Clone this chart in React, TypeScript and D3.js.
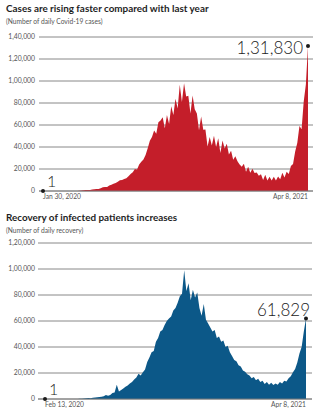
import React from 'react';
import * as d3 from 'd3';

// Chart 1: daily cases, sampled every 3.5 days from Jan 30, 2020 to Apr 8, 2021
const casesTitle = 'Cases are rising faster compared with last year';
const casesSubtitle = '(Number of daily Covid-19 cases)';
const casesStartLabel = 'Jan 30, 2020';
const casesEndLabel = 'Apr 8, 2021';
const casesSpanDays = 434;
const casesStep = 3.5;
const casesTicks = [0, 20000, 40000, 60000, 80000, 100000, 120000, 140000];
const casesValues = [
  1, 0, 0, 0, 0, 0, 0, 0, 0, 2,
  20, 15, 20, 25, 50, 80, 90, 200, 450, 600,
  800, 900, 1000, 1300, 1500, 1800, 1900, 2600, 3300, 3600,
  3700, 5000, 5600, 6600, 7200, 8400, 9800, 9900, 11000, 11500,
  13500, 15500, 17000, 19900, 19500, 24000, 26500, 28600, 32700, 38900,
  45700, 49000, 55000, 52000, 62500, 64000, 67000, 57000, 69000, 61000,
  77000, 69000, 83800, 75000, 96500, 81000, 97900, 86000, 86500, 70500,
  86800, 74400, 70500, 55300, 67700, 55700, 55800, 40500, 49000, 41300,
  50200, 40000, 47900, 34500, 45800, 38600, 43000, 33100, 36600, 28500,
  31500, 27000, 24000, 22000, 24700, 17400, 22000, 16500, 20300, 16300,
  16900, 13800, 15200, 10100, 14800, 9600, 12900, 9600, 12900, 9600,
  13200, 10600, 16700, 12300, 17400, 15400, 22800, 24500, 35900, 43800,
  59100, 56200, 81400, 96900, 131830,
];
const casesLast = 131830;

// Chart 2: daily recoveries, sampled every 3.5 days from Feb 13, 2020 to Apr 8, 2021
const recTitle = 'Recovery of infected patients increases';
const recSubtitle = '(Number of daily recovery)';
const recStartLabel = 'Feb 13, 2020';
const recEndLabel = 'Apr 8, 2021';
const recSpanDays = 420;
const recStep = 3.5;
const recTicks = [0, 20000, 40000, 60000, 80000, 100000, 120000];
const recValues = [
  1, 0, 0, 0, 0, 0, 2, 3, 5, 10,
  15, 20, 25, 40, 80, 90, 150, 250, 400, 500,
  700, 600, 900, 1100, 1300, 1500, 1800, 2200, 3000, 2500,
  3100, 4600, 5000, 11000, 5800, 7000, 8000, 9500, 10400, 12000,
  13000, 15000, 16500, 19500, 18000, 20500, 22600, 28500, 32000, 36000,
  37000, 44000, 47000, 52000, 53000, 57000, 60000, 62000, 63500, 68000,
  70000, 74000, 79000, 81000, 99000, 83000, 89000, 76000, 84000, 78000,
  82000, 70000, 64000, 73000, 61000, 58000, 55000, 52000, 53000, 47000,
  48000, 44000, 45000, 40000, 41000, 36000, 33000, 30000, 29000, 26000,
  25000, 22000, 21000, 19000, 18000, 16000, 17000, 14500, 15500, 13000,
  14000, 11500, 13000, 11000, 12500, 10700, 12000, 11000, 13000, 12000,
  14000, 13500, 16000, 17500, 20500, 23000, 28000, 35000, 40000, 52000,
  61829,
];
const recLast = 61829;

function fmtIN(n: number): string {
  const s = String(Math.round(n));
  if (s.length <= 3) return s;
  const last3 = s.slice(-3);
  let rest = s.slice(0, -3);
  const parts: string[] = [];
  while (rest.length > 2) {
    parts.unshift(rest.slice(-2));
    rest = rest.slice(0, -2);
  }
  if (rest) parts.unshift(rest);
  return parts.join(',') + ',' + last3;
}

const FONT = 'Lato, "Open Sans", sans-serif';

type PanelProps = {
  title: string;
  subtitle: string;
  titleY: number;
  ticks: number[];
  values: number[];
  step: number;
  span: number;
  yRange: [number, number];
  xRange: [number, number];
  gridX: [number, number];
  color: string;
  startLabel: string;
  endLabel: string;
  lastValue: number;
  lastLabelDx: number;
  lastLabelDy: number;
};

function Panel(p: PanelProps) {
  const maxTick = p.ticks[p.ticks.length - 1];
  const y = d3.scaleLinear().domain([0, maxTick]).range(p.yRange);
  const x = d3.scaleLinear().domain([0, p.span]).range(p.xRange);
  const area = d3
    .area<number>()
    .x((_, i) => x(Math.min(i * p.step, p.span)))
    .y0(y(0))
    .y1((d) => y(d));
  const lastX = x(p.span);
  const lastY = y(p.lastValue);
  return (
    <g>
      <text x={6} y={p.titleY} fontFamily={FONT} fontWeight={700} fontSize={9.9} fill="#1e1e1e">
        {p.title}
      </text>
      <text x={6} y={p.titleY + 12} fontFamily={FONT} fontSize={6.7} fill="#555">
        {p.subtitle}
      </text>
      {p.ticks.map((t) => (
        <g key={t}>
          <line x1={p.gridX[0]} x2={p.gridX[1]} y1={y(t)} y2={y(t)} stroke="#7a7a7a" strokeWidth={0.9} />
          <text x={35} y={y(t)} dy="0.35em" textAnchor="end" fontFamily={FONT} fontSize={6.8} fill="#555">
            {fmtIN(t)}
          </text>
        </g>
      ))}
      <path d={area(p.values) || ''} fill={p.color} />
      <line x1={p.gridX[0]} x2={p.gridX[1]} y1={y(0)} y2={y(0)} stroke="#7a7a7a" strokeWidth={0.9} />
      <circle cx={x(0)} cy={y(0)} r={2} fill="#1a1a1a" />
      <text x={x(0) + 4} y={y(0) - 4} fontFamily={FONT} fontWeight={300} fontSize={16} fill="#222">
        1
      </text>
      <circle cx={lastX} cy={lastY} r={2} fill="#1a1a1a" />
      <text
        x={lastX + p.lastLabelDx}
        y={lastY + p.lastLabelDy}
        textAnchor="end"
        fontFamily={FONT}
        fontWeight={300}
        fontSize={17}
        fill="#222"
      >
        {fmtIN(p.lastValue)}
      </text>
      <text x={x(0)} y={y(0) + 6} dy="0.35em" fontFamily={FONT} fontSize={6.7} fill="#555">
        {p.startLabel}
      </text>
      <text x={lastX} y={y(0) + 6} dy="0.35em" textAnchor="end" fontFamily={FONT} fontSize={6.7} fill="#555">
        {p.endLabel}
      </text>
    </g>
  );
}

export default function App() {
  return (
    <svg
      width={323}
      height={413}
      style={{ position: 'absolute', left: 0, top: 0, background: '#fff' }}
    >
      <Panel
        title={casesTitle}
        subtitle={casesSubtitle}
        titleY={12}
        ticks={casesTicks}
        values={casesValues}
        step={casesStep}
        span={casesSpanDays}
        yRange={[191, 37]}
        xRange={[43, 308]}
        gridX={[39, 313]}
        color="#c41e2a"
        startLabel={casesStartLabel}
        endLabel={casesEndLabel}
        lastValue={casesLast}
        lastLabelDx={-5}
        lastLabelDy={8}
      />
      <Panel
        title={recTitle}
        subtitle={recSubtitle}
        titleY={221}
        ticks={recTicks}
        values={recValues}
        step={recStep}
        span={recSpanDays}
        yRange={[399, 243]}
        xRange={[45, 306]}
        gridX={[38, 312]}
        color="#0c5888"
        startLabel={recStartLabel}
        endLabel={recEndLabel}
        lastValue={recLast}
        lastLabelDx={4}
        lastLabelDy={-3}
      />
    </svg>
  );
}
